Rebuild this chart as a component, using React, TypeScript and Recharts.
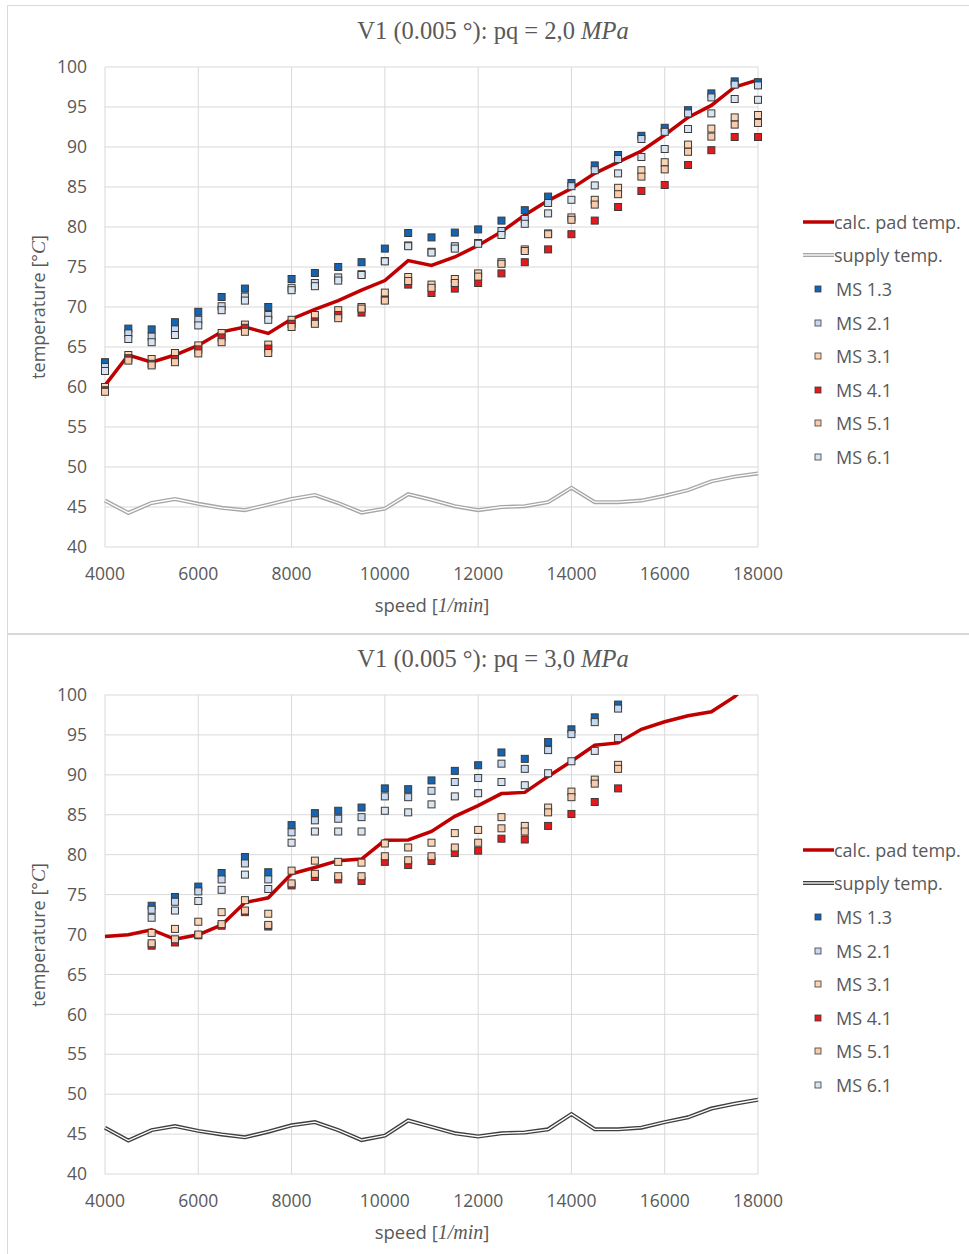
import React from "react";
import { ComposedChart, Line, XAxis, YAxis, CartesianGrid } from "recharts";

const speeds = [
  4000, 4500, 5000, 5500, 6000, 6500, 7000, 7500, 8000, 8500, 9000, 9500, 10000, 10500, 11000,
  11500, 12000, 12500, 13000, 13500, 14000, 14500, 15000, 15500, 16000, 16500, 17000, 17500, 18000,
];
const xTicks = [4000, 6000, 8000, 10000, 12000, 14000, 16000, 18000];
const yTicks = [40, 45, 50, 55, 60, 65, 70, 75, 80, 85, 90, 95, 100];

// pq = 2,0 MPa
const calcTop = [60.2, 64.0, 63.1, 64.0, 65.2, 66.9, 67.5, 66.7, 68.5, 69.7, 70.8, 72.1, 73.3, 75.8, 75.2, 76.25, 77.7, 79.4, 81.5, 83.3, 84.8, 86.7, 88.1, 89.5, 91.5, 93.7, 95.2, 97.5, 98.4];
const supplyTop = [45.8, 44.26, 45.5, 46.0, 45.4, 44.9, 44.6, 45.3, 46.0, 46.5, 45.5, 44.3, 44.8, 46.6, 45.9, 45.1, 44.6, 45.0, 45.1, 45.6, 47.4, 45.6, 45.6, 45.8, 46.4, 47.1, 48.2, 48.8, 49.2];
const ms13Top = [63.1, 67.3, 67.2, 68.1, 69.4, 71.25, 72.3, 70.0, 73.5, 74.25, 75.0, 75.6, 77.3, 79.25, 78.7, 79.3, 79.7, 80.8, 82.1, 83.8, 85.5, 87.7, 89.0, 91.4, 92.4, 94.6, 96.7, 98.2, 98.1];
const ms21Top = [62.5, 66.7, 66.3, 67.2, 68.4, 70.1, 71.3, 69.0, 72.4, 73.0, 73.7, 74.1, 75.75, 77.7, 76.9, 77.6, 78.0, 79.5, 81.0, 83.0, 85.1, 87.1, 88.5, 91.0, 91.9, 94.2, 96.2, 97.8, 97.7];
const ms31Top = [60.0, 64.0, 63.5, 64.25, 65.2, 66.75, 67.8, 65.3, 68.4, 69.0, 69.6, 70.0, 71.8, 73.75, 72.8, 73.5, 74.2, 75.6, 77.2, 79.2, 81.2, 83.4, 84.9, 87.1, 88.1, 90.3, 92.3, 93.7, 94.0];
const ms41Top = [59.6, 63.6, 62.9, 63.5, 64.7, 66.2, 67.4, 64.8, 67.9, 68.2, 69.0, 69.3, 70.9, 72.8, 71.75, 72.3, 73.0, 74.2, 75.6, 77.2, 79.1, 80.8, 82.5, 84.5, 85.25, 87.75, 89.6, 91.25, 91.25];
const ms51Top = [59.4, 63.3, 62.7, 63.1, 64.2, 65.6, 66.9, 64.25, 67.5, 67.9, 68.6, 69.8, 70.8, 73.25, 72.4, 73.0, 73.8, 75.4, 77.0, 79.1, 80.9, 82.8, 84.1, 86.3, 87.2, 89.4, 91.3, 92.8, 93.0];
const ms61Top = [62.0, 66.0, 65.6, 66.5, 67.7, 69.6, 70.8, 68.4, 72.1, 72.6, 73.3, 74.0, 75.7, 77.6, 76.8, 77.3, 77.9, 79.0, 80.4, 81.7, 83.4, 85.2, 86.7, 88.75, 89.75, 92.25, 94.2, 96.0, 95.9];

// pq = 3,0 MPa (measurements 5000 .. 15000 only)
const calcBot = [69.75, 69.96, 70.6, 69.4, 69.96, 71.2, 74.0, 74.6, 77.6, 78.4, 79.25, 79.45, 81.8, 81.85, 82.9, 84.8, 86.15, 87.65, 87.8, 89.8, 91.7, 93.7, 94.0, 95.7, 96.65, 97.4, 97.9, 99.8, 102.5];
const supplyBot = [45.8, 44.2, 45.5, 46.0, 45.4, 44.96, 44.6, 45.3, 46.1, 46.5, 45.5, 44.25, 44.8, 46.7, 45.9, 45.1, 44.7, 45.1, 45.2, 45.6, 47.5, 45.6, 45.6, 45.8, 46.5, 47.1, 48.2, 48.8, 49.3];
const ms13Bot = [null, null, 73.6, 74.7, 76.0, 77.7, 79.7, 77.8, 83.7, 85.2, 85.5, 85.9, 88.3, 88.2, 89.3, 90.5, 91.2, 92.8, 92.0, 94.1, 95.7, 97.2, 98.8, null, null, null, null, null, null];
const ms21Bot = [null, null, 73.1, 74.1, 75.4, 76.9, 78.9, 76.9, 82.8, 84.3, 84.5, 84.7, 87.3, 87.2, 88.0, 89.1, 89.6, 91.4, 90.75, 93.1, 95.1, 96.6, 98.3, null, null, null, null, null, null];
const ms31Bot = [null, null, 70.2, 70.7, 71.6, 72.8, 74.3, 72.6, 78.0, 79.25, 79.1, 79.0, 81.4, 80.9, 81.5, 82.7, 83.1, 84.7, 83.6, 85.9, 87.9, 89.4, 91.25, null, null, null, null, null, null];
const ms41Bot = [null, null, 68.6, 69.0, 69.9, 71.1, 72.8, 71.0, 76.15, 77.2, 76.9, 76.7, 79.1, 78.7, 79.2, 80.2, 80.5, 82.0, 81.9, 83.6, 85.1, 86.6, 88.3, null, null, null, null, null, null];
const ms51Bot = [null, null, 68.9, 69.4, 70.0, 71.3, 73.0, 71.2, 76.4, 77.6, 77.3, 77.3, 79.8, 79.3, 79.8, 80.9, 81.5, 83.3, 82.9, 85.3, 87.2, 88.9, 90.75, null, null, null, null, null, null];
const ms61Bot = [null, null, 72.1, 73.0, 74.2, 75.6, 77.5, 75.7, 81.5, 82.9, 82.9, 82.9, 85.5, 85.3, 86.3, 87.3, 87.7, 89.1, 88.7, 90.2, 91.7, 93.0, 94.6, null, null, null, null, null, null];

const markers = [
  { key: "ms13", name: "MS 1.3", fill: "#1464b4" },
  { key: "ms21", name: "MS 2.1", fill: "#c6d9f0" },
  { key: "ms31", name: "MS 3.1", fill: "#fbd4b4" },
  { key: "ms41", name: "MS 4.1", fill: "#e41a1c" },
  { key: "ms51", name: "MS 5.1", fill: "#f8cbad" },
  { key: "ms61", name: "MS 6.1", fill: "#dae4f0" },
];

const SANS = "'Open Sans', 'Noto Sans', sans-serif";
const SERIF = "'Liberation Serif', 'DejaVu Serif', serif";
const GREY = "#595959";
const X_AXIS_HEIGHT = 30;

type Series = (number | null)[];

function buildRows(calc: Series, supply: Series, ms: Series[]) {
  return speeds.map((speed, i) => {
    const row: Record<string, number | null> = { speed, calc: calc[i], supply: supply[i] };
    markers.forEach((m, j) => {
      row[m.key] = ms[j][i];
    });
    return row;
  });
}

const topRows = buildRows(calcTop, supplyTop, [ms13Top, ms21Top, ms31Top, ms41Top, ms51Top, ms61Top]);
const botRows = buildRows(calcBot, supplyBot, [ms13Bot, ms21Bot, ms31Bot, ms41Bot, ms51Bot, ms61Bot]);

const square = (fill: string, id: string) => (p: any) => {
  if (p.cy == null || p.value == null) return <g key={`${id}-${p.index}`} />;
  return (
    <rect
      key={`${id}-${p.index}`}
      x={p.cx - 3.5}
      y={p.cy - 3.5}
      width={7}
      height={7}
      fill={fill}
      stroke="#3a3a3a"
      strokeWidth={1}
    />
  );
};

function LegendBox({ supplyColor, top }: { supplyColor: string; top: number }) {
  const row: React.CSSProperties = { height: 33.6, display: "flex", alignItems: "center" };
  return (
    <div style={{ position: "absolute", left: 803, top, fontFamily: SANS, fontSize: 18, color: GREY, whiteSpace: "nowrap" }}>
      <div style={row}>
        <svg width={31} height={10}>
          <line x1={0} y1={5} x2={31} y2={5} stroke="#c00000" strokeWidth={3.5} />
        </svg>
        <span>calc. pad temp.</span>
      </div>
      <div style={row}>
        <svg width={31} height={10}>
          <line x1={0} y1={5} x2={31} y2={5} stroke={supplyColor} strokeWidth={4} />
          <line x1={0} y1={5} x2={31} y2={5} stroke="#ffffff" strokeWidth={1.3} />
        </svg>
        <span>supply temp.</span>
      </div>
      {markers.map((m) => (
        <div key={m.key} style={row}>
          <svg width={31} height={10}>
            <rect x={12} y={2} width={6} height={6} fill={m.fill} stroke="#3a3a3a" strokeWidth={0.8} />
          </svg>
          <span style={{ marginLeft: 2 }}>{m.name}</span>
        </div>
      ))}
    </div>
  );
}

function Panel({
  top,
  height,
  pq,
  rows,
  supplyColor,
  plotTop,
  plotBottom,
  legendTop,
}: {
  top: number;
  height: number;
  pq: string;
  rows: Record<string, number | null>[];
  supplyColor: string;
  plotTop: number;
  plotBottom: number;
  legendTop: number;
}) {
  return (
    <div style={{ position: "absolute", left: 0, top, width: 969, height }}>
      <div
        style={{
          position: "absolute",
          left: 0,
          top: plotTop - 36,
          width: 986,
          textAlign: "center",
          fontFamily: SERIF,
          fontSize: 24.5,
          color: GREY,
          transform: "translateY(-50%)",
          whiteSpace: "nowrap",
        }}
      >
        V1 (0.005 °): pq = {pq} <i>MPa</i>
      </div>
      <ComposedChart
        width={969}
        height={height}
        data={rows}
        margin={{ top: plotTop, right: 211, bottom: height - plotBottom - X_AXIS_HEIGHT, left: 45 }}
      >
        <CartesianGrid stroke="#d9d9d9" strokeWidth={1} verticalValues={xTicks} horizontalValues={yTicks} />
        <XAxis
          dataKey="speed"
          type="number"
          domain={[4000, 18000]}
          ticks={xTicks}
          height={X_AXIS_HEIGHT}
          axisLine={false}
          tickLine={false}
          tickSize={0}
          tickMargin={21}
          tick={{ fill: GREY, fontSize: 17.5, fontFamily: SANS }}
        />
        <YAxis
          type="number"
          domain={[40, 100]}
          ticks={yTicks}
          allowDataOverflow
          axisLine={false}
          tickLine={false}
          tickSize={0}
          tickMargin={18}
          width={60}
          tick={{ fill: GREY, fontSize: 17.5, fontFamily: SANS }}
        />
        <Line
          dataKey="calc"
          stroke="#c00000"
          strokeWidth={3.5}
          dot={false}
          activeDot={false}
          isAnimationActive={false}
        />
        <Line
          dataKey="supply"
          stroke={supplyColor}
          strokeWidth={4}
          dot={false}
          activeDot={false}
          isAnimationActive={false}
        />
        <Line
          dataKey="supply"
          stroke="#ffffff"
          strokeWidth={1.3}
          dot={false}
          activeDot={false}
          isAnimationActive={false}
        />
        {markers.map((m) => (
          <Line
            key={m.key}
            dataKey={m.key}
            name={m.name}
            stroke="none"
            strokeWidth={0}
            dot={square(m.fill, m.key)}
            activeDot={false}
            isAnimationActive={false}
          />
        ))}
      </ComposedChart>
      <LegendBox supplyColor={supplyColor} top={legendTop} />
      <div
        style={{
          position: "absolute",
          left: 432,
          top: plotBottom + 57,
          transform: "translate(-50%, -50%)",
          fontFamily: SANS,
          fontSize: 18.5,
          color: GREY,
          whiteSpace: "nowrap",
        }}
      >
        speed [<span style={{ fontFamily: SERIF, fontStyle: "italic", fontSize: 20 }}>1/min</span>]
      </div>
      <div
        style={{
          position: "absolute",
          left: 38,
          top: (plotTop + plotBottom) / 2,
          transform: "translate(-50%, -50%) rotate(-90deg)",
          fontFamily: SANS,
          fontSize: 18,
          color: GREY,
          whiteSpace: "nowrap",
        }}
      >
        temperature [°<span style={{ fontFamily: SERIF, fontStyle: "italic", fontSize: 19.5 }}>C</span>]
      </div>
    </div>
  );
}

export default function App() {
  return (
    <div style={{ position: "absolute", left: 0, top: 0, width: 969, height: 1254, background: "#fff", overflow: "hidden" }}>
      <div style={{ position: "absolute", left: 7, top: 5, width: 980, height: 628, border: "1px solid #d9d9d9" }} />
      <div style={{ position: "absolute", left: 7, top: 633, width: 980, height: 640, border: "1px solid #d9d9d9" }} />
      <Panel
        top={0}
        height={633}
        pq="2,0"
        rows={topRows}
        supplyColor="#a6a6a6"
        plotTop={67}
        plotBottom={547}
        legendTop={205}
      />
      <Panel
        top={633}
        height={621}
        pq="3,0"
        rows={botRows}
        supplyColor="#3f3f3f"
        plotTop={62}
        plotBottom={541}
        legendTop={200}
      />
    </div>
  );
}
